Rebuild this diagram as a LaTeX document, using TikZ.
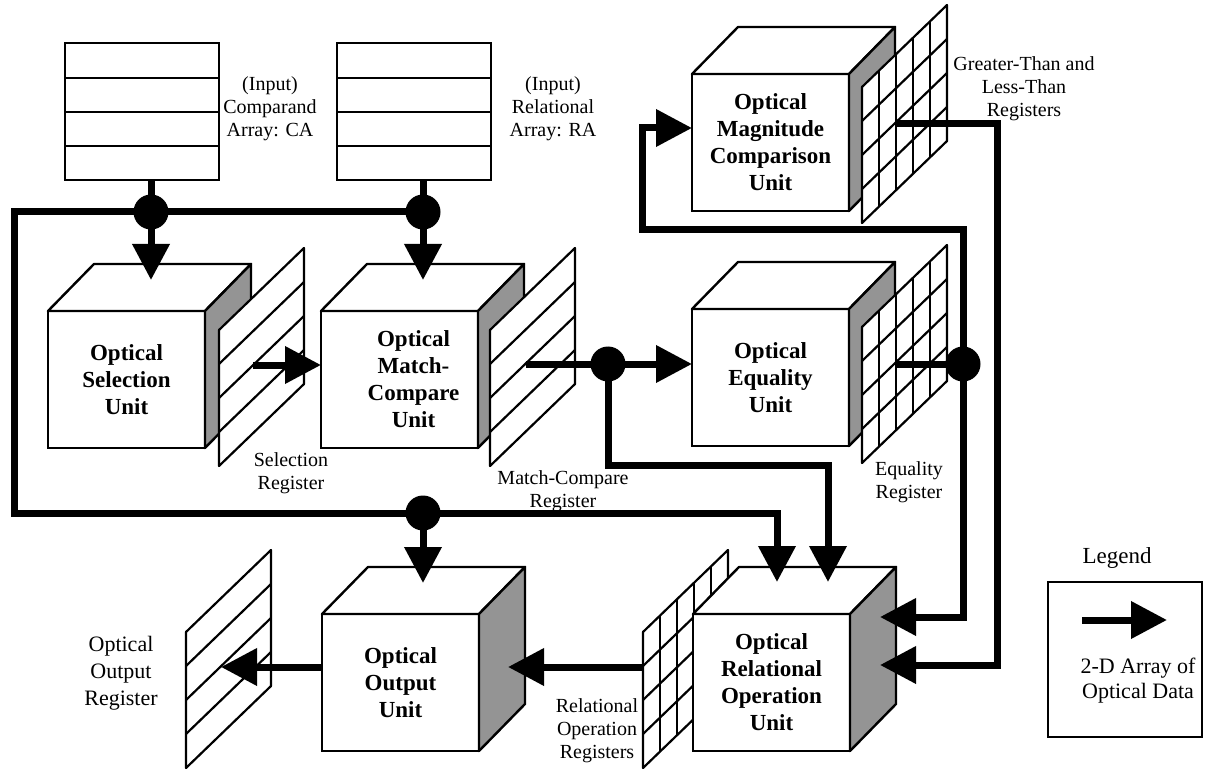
\documentclass[tikz,border=0pt]{standalone}
\usepackage{fontspec}
\setmainfont{Liberation Serif}
\usetikzlibrary{arrows.meta}

\newcommand\opcube[4]{%
  \node[face] (#1) at (#2,#3) {#4};
  \draw[topf] (#1.north west) -- ++(46,-47) -- ++(157,0) -- (#1.north east) -- cycle;
  \draw[sidef] (#1.north east) -- ++(46,-47) -- ++(0,137) -- (#1.south east) -- cycle;
}
\newcommand\regplane[3]{%
  \draw[regf] (#1,#2) -- ++(0,-136) -- ++(85,-82) -- ++(0,136) -- cycle;
  \foreach \i in {1,2,3} \draw[regl] (#1,#2-136+34*\i) -- ++(85,-82);
  \ifnum#3=1
    \foreach \j in {1,2,3,4} \draw[regl] (#1+17*\j,#2-16.4*\j) -- ++(0,-136);
  \fi
}

\begin{document}
\begin{tikzpicture}[x=0.5pt,y=-0.5pt,
  conn/.style={line width=3.5pt, line join=miter},
  arr/.style={conn, -{Triangle[length=18pt,width=18pt]}},
  dot/.style={circle, fill=black, minimum size=17.5pt, inner sep=0pt, outer sep=0pt},
  face/.style={draw, line width=1.2pt, fill=white, minimum width=78.5pt, minimum height=68.5pt,
    anchor=north west, inner sep=0pt, outer sep=0pt, align=center,
    font=\bfseries\fontsize{11.5}{13.5}\selectfont},
  topf/.style={draw, line width=1.2pt, fill=white, line join=round},
  sidef/.style={draw, line width=1.2pt, fill=black!42, line join=round},
  regf/.style={draw, line width=1.1pt, fill=white, line join=round},
  regl/.style={line width=1.1pt},
  lbl/.style={align=center, inner sep=0pt, font=\fontsize{10}{11.5}\selectfont},
  arraybox/.style={draw, line width=1.2pt, minimum width=77pt, minimum height=68.5pt,
    inner sep=0pt, outer sep=0pt, anchor=north west},
  rowl/.style={line width=1.2pt},
]
\useasboundingbox (0,0) rectangle (1205,770);

% input arrays
\node[arraybox] (ca) at (65,43) {};
\foreach \yy in {78,112,146} \draw[rowl] (65,\yy) -- (219,\yy);
\node[arraybox] (ra) at (337,43) {};
\foreach \yy in {78,112,146} \draw[rowl] (337,\yy) -- (491,\yy);
\node[lbl] (calbl) at (270,109) {(Input)\\Comparand\\Array: CA};
\node[lbl] (ralbl) at (553,109) {(Input)\\Relational\\Array: RA};

% cubes and their registers
\opcube{sel}{48}{311}{Optical\\Selection\\Unit}
\regplane{219}{466}{0}
\opcube{mc}{321}{311}{\hspace*{14pt}Optical\\\hspace*{14pt}Match-\\\hspace*{14pt}Compare\\\hspace*{14pt}Unit}
\regplane{490}{466}{0}
\opcube{mag}{692}{74}{Optical\\Magnitude\\Comparison\\Unit}
\regplane{862}{223}{1}
\opcube{eq}{692}{309}{Optical\\Equality\\Unit}
\regplane{862}{463}{1}
\regplane{643}{768}{1}
\opcube{rel}{693}{614}{Optical\\Relational\\Operation\\Unit}
\opcube{out}{322}{614}{Optical\\Output\\Unit}
\regplane{186}{768}{0}

% labels
\node[lbl] (sellbl) at (291,473) {Selection\\Register};
\node[lbl] (mclbl) at (563,491) {Match-Compare\\Register};
\node[lbl] (eqlbl) at (909,482) {Equality\\Register};
\node[lbl] (maglbl) at (1024,89) {Greater-Than and\\Less-Than\\Registers};
\node[lbl] (rellbl) at (597,731) {Relational\\Operation\\Registers};
\node[lbl, font=\fontsize{11}{13.5}\selectfont] (outlbl) at (121,673) {Optical\\Output\\Register};

% junctions and bends
\coordinate (d1c) at (151,212);
\coordinate (d2c) at (423,212);
\coordinate (d3c) at (423,513);
\coordinate (d4c) at (608,364);
\coordinate (d5c) at (963,364);
\coordinate (bl1) at (14,212);
\coordinate (bl2) at (14,513);
\coordinate (selin) at (151,280);
\coordinate (mcin) at (423,280);
\coordinate (outin) at (423,583);
\coordinate (relin1) at (777,582);
\coordinate (relin2) at (828,582);
\coordinate (k1) at (828,465);
\coordinate (selout) at (253,365);
\coordinate (mcout) at (526,364);
\coordinate (eqout) at (896,364);
\coordinate (fb1) at (963,230);
\coordinate (fb2) at (642,230);
\coordinate (fb3) at (642,128);
\coordinate (magout) at (896,124);
\coordinate (m1) at (997,124);
\coordinate (relside1) at (880,617);
\coordinate (relside2) at (880,665);
\coordinate (relregout) at (643,667);
\coordinate (outside) at (508,667);
\coordinate (outreg) at (221,667);

% connectors
\draw[conn] (d1c |- ca.south) -- (d1c);
\draw[conn] (d2c |- ra.south) -- (d2c);
\draw[arr] (d1c) -- (selin);
\draw[arr] (d2c) -- (mcin);
\draw[conn] (d2c) -- (d1c) -- (bl1) -- (bl2) -- (d3c);
\draw[arr] (d3c) -- (outin);
\draw[arr] (d3c) -| (relin1);
\draw[arr] (selout) -- (selout -| mc.west);
\draw[conn] (mcout) -- (d4c);
\draw[arr] (d4c) -- (d4c -| eq.west);
\draw[arr] (d4c) |- (k1) -- (relin2);
\draw[conn] (eqout) -- (d5c);
\draw[arr] (d5c) -- (fb1) -- (fb2) -- (fb3) -- (fb3 -| mag.west);
\draw[arr] (d5c) |- (relside1);
\draw[arr] (magout) -- (m1) |- (relside2);
\draw[arr] (relregout) -- (outside);
\draw[arr] (out.west |- outreg) -- (outreg);

% junction dots
\node[dot] (d1) at (d1c) {};
\node[dot] (d2) at (d2c) {};
\node[dot] (d3) at (d3c) {};
\node[dot] (d4) at (d4c) {};
\node[dot] (d5) at (d5c) {};

% legend
\node[inner sep=0pt, font=\fontsize{11.5}{13}\selectfont] (legt) at (1117,558) {Legend};
\draw[line width=1.2pt] (1048,582) rectangle (1202,737);
\coordinate (la1) at (1082,620);
\coordinate (la2) at (1167,620);
\draw[arr] (la1) -- (la2);
\node[align=center, inner sep=0pt, font=\fontsize{11}{12.5}\selectfont] (legtxt) at (1138,681) {2-D Array of\\Optical Data};
\end{tikzpicture}
\end{document}
